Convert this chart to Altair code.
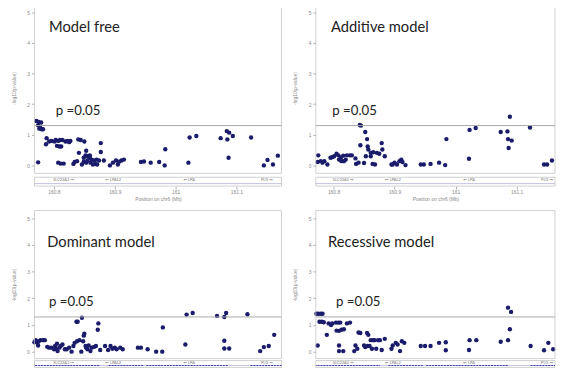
import altair as alt
import pandas as pd

# ---------------- data ----------------
# Model free
mf_pos = [160.771,160.775,160.779,160.774,160.777,160.780,160.782,160.776,160.774,
          160.788,160.787,160.792,160.796,160.801,160.803,160.807,160.810,160.805,160.809,160.812,160.814,160.819,160.822,160.827,160.825,160.840,160.844,160.850,
          160.832,160.834,160.838,160.846,160.849,160.853,160.811,160.816,160.807,
          160.841,160.853,160.849,160.852,160.855,160.859,160.862,160.866,160.870,160.874,160.877,160.877,160.882,160.860,160.864,160.868,160.871,160.855,160.859,
          160.892,160.897,160.902,160.905,160.907,160.911,160.915,
          160.943,160.948,160.959,160.973,160.982,160.983,
          161.021,161.023,161.034,
          161.074,161.084,161.088,161.085,161.094,161.087,161.124,
          161.145,161.151,161.160,161.168]
mf_val = [1.45,1.42,1.40,1.31,1.26,1.18,1.18,1.20,0.10,
          0.89,0.69,0.78,0.80,0.78,0.83,0.80,0.83,0.64,0.62,0.62,0.83,0.78,0.80,0.80,0.76,0.85,0.83,0.78,
          0.05,0.11,0.14,0.03,0.12,0.09,0.06,0.06,0.09,
          0.41,0.48,0.25,0.33,0.30,0.33,0.19,0.16,0.19,0.16,0.44,0.73,0.16,0.09,0.03,0.05,0.03,0.16,0.25,
          0.00,0.09,0.16,0.03,0.12,0.16,0.19,
          0.11,0.13,0.09,0.11,0.00,0.53,
          0.09,0.91,0.96,
          0.89,1.12,1.07,0.85,0.96,0.25,0.91,
          0.00,0.18,0.03,0.32]

# Additive model
ad_pos = [160.775,160.774,160.779,160.782,160.785,160.790,160.795,160.798,160.801,160.805,160.808,160.809,160.812,160.813,160.817,160.820,160.816,160.822,160.827,160.830,160.836,160.837,160.841,
          160.844,160.843,160.845,160.850,160.852,160.855,160.856,160.853,160.857,160.861,160.865,160.864,160.868,160.871,160.875,160.879,160.880,160.884,160.861,
          160.895,160.897,160.900,160.904,160.908,160.911,160.913,160.918,
          160.943,160.948,160.959,160.973,160.983,160.985,
          161.022,161.023,161.033,
          161.074,161.085,161.089,161.086,161.092,161.087,161.122,
          161.145,161.150,161.158]
ad_val = [0.33,0.11,0.14,0.09,0.14,0.03,0.25,0.27,0.30,0.38,0.33,0.19,0.25,0.14,0.14,0.19,0.32,0.33,0.33,0.33,0.23,0.05,0.09,
          0.66,1.32,1.30,0.08,1.09,0.86,0.62,0.30,0.52,0.41,0.43,0.05,0.03,0.41,0.38,0.73,0.52,0.30,0.30,
          0.03,0.03,0.09,0.03,0.14,0.19,0.11,0.01,
          0.03,0.03,0.05,0.09,0.01,0.86,
          0.22,1.16,1.22,
          1.09,1.11,1.59,0.86,0.81,0.57,1.24,
          0.03,0.03,0.16]

# Dominant model
do_pos = [160.768,160.770,160.773,160.775,160.778,160.782,160.785,160.774,
          160.789,160.792,160.796,160.800,160.802,160.803,160.805,160.806,160.809,160.811,160.814,160.818,160.821,160.825,160.829,160.832,160.834,
          160.837,160.839,160.838,160.842,160.846,160.845,160.848,160.849,160.850,160.852,160.853,160.855,160.857,160.860,160.862,160.866,160.869,160.872,160.873,
          160.876,160.884,160.889,160.893,160.896,160.900,160.903,160.909,160.913,
          160.938,160.943,160.954,160.968,160.978,160.979,
          161.016,161.018,161.028,
          161.068,161.080,161.083,161.080,161.080,161.088,161.118,
          161.139,161.145,161.153,161.162]
do_val = [0.35,0.43,0.33,0.39,0.43,0.43,0.43,0.23,
          0.18,0.15,0.15,0.09,0.21,0.11,0.30,0.02,0.15,0.21,0.27,0.09,0.09,0.15,0.00,0.21,0.33,
          1.12,1.12,0.39,0.43,1.27,0.00,0.39,0.60,0.67,0.21,0.15,0.09,0.23,0.02,0.15,0.18,0.21,0.82,1.06,
          0.06,0.21,0.06,0.21,0.11,0.15,0.09,0.15,0.09,
          0.15,0.15,0.09,0.00,0.00,0.91,
          0.27,1.39,1.45,
          1.34,1.30,1.45,0.41,0.12,0.12,1.40,
          0.02,0.17,0.21,0.63]

# Recessive model
re_pos = [160.772,160.775,160.779,160.782,160.774,160.777,160.781,160.784,160.789,160.792,160.796,160.798,160.804,160.808,160.811,160.805,160.809,160.813,160.817,160.822,160.827,
          160.809,160.809,160.816,160.834,160.836,160.839,160.841,160.844,160.850,160.852,160.855,160.857,160.856,160.859,160.861,160.865,160.863,160.867,160.870,160.873,160.876,160.879,160.884,
          160.895,160.897,160.902,160.905,160.909,160.912,160.916,
          160.943,160.950,160.959,160.973,160.984,160.984,
          161.022,161.023,161.034,
          161.074,161.086,161.091,161.089,161.086,
          161.123,161.145,161.152,161.160]
re_val = [1.42,1.42,1.42,1.42,0.23,1.12,1.12,1.10,0.63,1.06,1.00,1.06,1.09,1.09,1.09,0.79,0.78,0.82,0.84,1.06,1.09,
          0.23,0.02,0.02,0.02,0.23,0.11,0.72,0.70,0.23,0.17,0.70,0.63,0.21,0.21,0.43,0.43,0.11,0.43,0.11,0.43,0.43,0.06,0.48,
          0.11,0.23,0.33,0.27,0.02,0.39,0.33,
          0.21,0.21,0.21,0.33,0.35,0.05,
          0.06,0.43,0.43,
          0.37,1.65,1.49,0.84,0.43,
          0.21,0.05,0.33,0.09]

PANEL_NAMES = ["Model free", "Additive model", "Dominant model", "Recessive model"]
P_LABEL = "p =0.05"
THRESH = [1.301]  # -log10(0.05)

GENE_NAMES = ["SLC22A3 \u2192", "\u2190 LPAL2", "\u2190 LPA", "PLG \u2192"]
GENE_START = [160.769, 160.890, 160.952, 161.123]
GENE_END = [160.876, 160.947, 161.087, 161.175]
GENE_LABEL_AT = [160.816, 160.897, 161.022, 161.150]

X_TICKS = [160.8, 160.9, 161.0, 161.1]
Y_TICKS = [0, 1, 2, 3, 4, 5]

NAVY = "#1b1b6b"
GRAY = "#8a8a8a"
FRAME = "#c4c4c4"
FONT = "Lato"


def panel(pos, val, name, dom_x, unit, y_top, w, h_plot, gap, h_track, h_layer,
          title_at, p_at, x_axis_text):
    """One LocusZoom-like panel: scatter + threshold + gene track drawn in one layered view.
    The gene track may be drawn past the layer's own height (h_layer) so that the grid
    spacing between rows can be smaller than between columns."""
    track_top = h_plot + gap
    track_bot = track_top + h_track
    xs = alt.Scale(domain=dom_x, nice=False, zero=False)
    ys = alt.Scale(domain=[y_top - h_layer / unit, y_top], nice=False, zero=False)
    pts = pd.DataFrame({"pos": pos, "val": val})
    yaxis = alt.Axis(values=Y_TICKS, title="-log10(p-value)", labelFontSize=5, labelColor=GRAY,
                     tickSize=3, tickColor="#b0b0b0", domain=False, labelPadding=2,
                     titleFontSize=5, titleColor=GRAY, titleFontWeight="normal", titlePadding=11,
                     titleY=h_plot / 2, grid=False)
    if x_axis_text:
        xaxis = alt.Axis(values=X_TICKS, format="~f", labelFontSize=5, labelColor=GRAY, tickSize=3,
                         tickColor="#b0b0b0", domain=False, labelPadding=1, grid=False,
                         offset=track_bot - h_layer, title="Position on chr6 (Mb)",
                         titleFontSize=5, titleColor=GRAY, titleFontWeight="normal", titlePadding=2)
    else:
        xaxis = alt.Axis(values=X_TICKS, labels=False, ticks=False, domain=False, grid=False,
                         title="", offset=track_bot - h_layer)

    def X(f):
        return alt.X(f, scale=xs, axis=xaxis)

    def Y(f):
        return alt.Y(f, scale=ys, axis=yaxis)

    one = pd.DataFrame({"a": [0]})
    frame = alt.Chart(one).mark_rect(fillOpacity=0, stroke=FRAME, strokeWidth=0.8).encode(
        x=alt.value(0), x2=alt.value(w), y=alt.value(0), y2=alt.value(h_plot))
    tframe = alt.Chart(one).mark_rect(fillOpacity=0, stroke=FRAME, strokeWidth=0.8).encode(
        x=alt.value(0), x2=alt.value(w), y=alt.value(track_top), y2=alt.value(track_bot))
    rule = alt.Chart(pd.DataFrame({"t": THRESH})).mark_rule(color="#a8a8a8", strokeWidth=1).encode(
        y=Y("t:Q"), x=alt.value(0), x2=alt.value(w))
    dots = alt.Chart(pts).mark_circle(size=20, color=NAVY, opacity=1).encode(
        x=X("pos:Q"), y=Y("val:Q"))
    ttl = alt.Chart(pd.DataFrame({"pos": [title_at[0]], "val": [title_at[1]], "s": [name]})).mark_text(
        align="left", baseline="alphabetic", fontSize=15, font=FONT, color="#222").encode(
        x=X("pos:Q"), y=Y("val:Q"), text="s:N")
    ptx = alt.Chart(pd.DataFrame({"pos": [p_at[0]], "val": [p_at[1]], "s": [P_LABEL]})).mark_text(
        align="left", baseline="alphabetic", fontSize=13.5, font=FONT, color="#222").encode(
        x=X("pos:Q"), y=Y("val:Q"), text="s:N")

    genes = pd.DataFrame({"name": GENE_NAMES, "pos": GENE_START, "end": GENE_END,
                          "lab": GENE_LABEL_AT})
    line_y = track_top + h_track * 0.72
    base = alt.Chart(one).mark_rule(color="#9a9ad0", strokeWidth=0.6).encode(
        x=alt.value(0), x2=alt.value(w), y=alt.value(line_y))
    gl = alt.Chart(genes).mark_rule(color="#3c3ca8", strokeWidth=1, strokeDash=[2, 1], clip=True).encode(
        x=X("pos:Q"), x2="end:Q", y=alt.value(line_y))
    gt = alt.Chart(genes).mark_text(fontSize=4, color="#777", baseline="middle", font=FONT).encode(
        x=alt.X("lab:Q", scale=xs, axis=xaxis), y=alt.value(track_top + h_track * 0.3), text="name:N")
    return alt.layer(dots, frame, tframe, rule, ttl, ptx, base, gl, gt).properties(
        width=w, height=h_layer)


L_DOM_X = [160.768, 161.174]
R_DOM_X = [160.771, 161.163]

# top row: 31.25 px per unit, plot 174 px, track below drawn past the 177 px layer
tl = panel(mf_pos, mf_val, PANEL_NAMES[0], L_DOM_X, 31.25, 5.31, 252, 174, 4, 9, 177,
           (160.792, 4.35), (160.803, 1.63), True)
tr = panel(ad_pos, ad_val, PANEL_NAMES[1], R_DOM_X, 31.25, 5.31, 244, 174, 4, 9, 177,
           (160.796, 4.35), (160.798, 1.63), True)
# bottom row: 27.2 px per unit, plot 151 px, a slim track inside the 160 px layer
bl = panel(do_pos, do_val, PANEL_NAMES[2], L_DOM_X, 27.2, 5.29, 252, 151, 2, 7, 160,
           (160.789, 3.91), (160.792, 1.70), False)
br = panel(re_pos, re_val, PANEL_NAMES[3], R_DOM_X, 27.2, 5.29, 244, 151, 2, 7, 160,
           (160.791, 3.91), (160.804, 1.70), False)

chart = alt.concat(tl, tr, bl, br, columns=2, spacing=35, bounds="flush").properties(
    padding={"left": 3, "top": -10, "right": 0, "bottom": 0},
    background="white",
).configure_view(strokeWidth=0)

chart.save("out.html", embed_options={"renderer": "svg", "actions": False})
